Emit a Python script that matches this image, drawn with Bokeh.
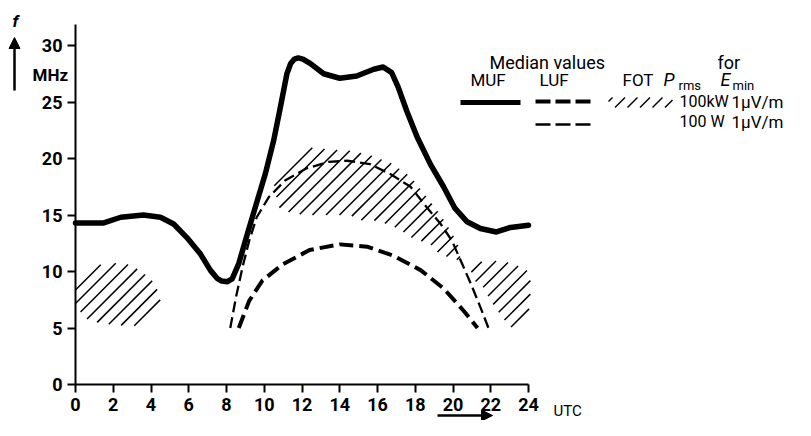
import math
from bokeh.plotting import figure
from bokeh.models import Label, Arrow, NormalHead, FixedTicker, LinearAxis
from bokeh.embed import file_html
from bokeh.resources import INLINE

# ---------------- data ----------------
x_ticks = [0, 2, 4, 6, 8, 10, 12, 14, 16, 18, 20, 22, 24]
y_ticks = [0, 5, 10, 15, 20, 25, 30]

muf_utc = [0, 1.5, 2.4, 3.6, 4.5, 5.2, 5.9, 6.6, 7.15, 7.5, 7.75, 8.05, 8.3, 8.65, 9.1, 9.6,
           10.05, 10.5, 10.85, 11.2, 11.4, 11.6, 11.8, 12.05, 12.45, 13.15, 14.0, 14.9, 15.8,
           16.3, 16.75, 17.1, 17.55, 18.1, 18.8, 19.5, 20.1, 20.75, 21.45, 22.3, 23.05, 24]
muf_mhz = [14.3, 14.3, 14.8, 15.0, 14.8, 14.2, 13.0, 11.6, 10.1, 9.4, 9.15, 9.1, 9.35, 10.7,
           13.3, 16.1, 18.6, 21.6, 24.5, 27.5, 28.4, 28.8, 28.9, 28.8, 28.4, 27.5, 27.1, 27.3,
           27.9, 28.1, 27.6, 26.3, 24.2, 21.9, 19.5, 17.5, 15.6, 14.4, 13.8, 13.5, 13.9, 14.1]

luf100w_utc = [8.2, 8.5, 8.85, 9.2, 9.6, 10.25, 11.1, 12.2, 13.4, 14.4, 15.6, 16.7, 17.75,
               18.6, 19.35, 19.95, 20.4, 20.95, 21.45, 21.9]
luf100w_mhz = [5.0, 7.7, 10.4, 12.7, 14.8, 16.6, 18.05, 19.1, 19.7, 19.8, 19.5, 18.6, 17.5,
               15.7, 14.2, 12.7, 11.0, 8.9, 6.85, 4.9]

luf100kw_utc = [8.65, 9.2, 9.9, 10.95, 12.4, 14.0, 15.45, 16.85, 18.3, 19.5, 20.55, 21.3]
luf100kw_mhz = [5.0, 7.4, 9.2, 10.6, 11.9, 12.4, 12.2, 11.4, 10.1, 8.5, 6.55, 5.0]

fot1_utc = [0, 0.8, 2.54, 3.44, 4.24, 4.5, 4.5, 3.7, 2.65, 1.32, 0.53, 0]
fot1_mhz = [9.2, 10.5, 10.8, 10.1, 8.9, 7.4, 6.5, 5.2, 5.2, 5.4, 5.85, 7.0]

fot2_utc = [10.45, 11.3, 12.3, 13.4, 14.5, 15.6, 16.7, 17.75, 18.6, 19.35, 19.95, 20.45,
            20.3, 19.3, 18.8, 17.8, 17.1, 16.0, 15.2, 14.5, 12.1, 11.2, 10.75]
fot2_mhz = [18.3, 19.7, 21.0, 20.8, 20.7, 20.3, 19.6, 18.4, 16.6, 15.0, 13.4, 11.7,
            11.0, 11.5, 12.4, 13.0, 13.8, 14.5, 14.5, 15.0, 15.0, 15.3, 15.7]

fot3_utc = [20.9, 21.1, 21.9, 22.9, 23.6, 24.1, 24.1, 23.9, 23.6, 23.05, 22.6, 22.0, 21.6]
fot3_mhz = [9.5, 10.7, 11.0, 10.8, 10.4, 9.9, 7.2, 5.7, 4.95, 5.1, 5.95, 7.4, 8.6]

# ---------------- figure ----------------
PX_PER_H = 18.875
PX_PER_MHZ = 11.3
X0_PX, Y0_PX = 75, 384          # pixel position of the origin
W, H = 795, 420

FONT = "Roboto"

p = figure(width=W, height=H,
           x_range=(-X0_PX / PX_PER_H, (W - X0_PX) / PX_PER_H),
           y_range=(-(H - Y0_PX) / PX_PER_MHZ, Y0_PX / PX_PER_MHZ),
           x_axis_type=None, y_axis_type=None,
           min_border=0, min_border_left=0, min_border_right=0,
           min_border_top=0, min_border_bottom=0,
           output_backend="svg", toolbar_location=None)
p.outline_line_color = None
p.grid.visible = False
p.background_fill_color = "white"
p.border_fill_color = "white"

xaxis = LinearAxis(fixed_location=0, ticker=FixedTicker(ticks=x_ticks), bounds=(0, 24))
yaxis = LinearAxis(fixed_location=0, ticker=FixedTicker(ticks=y_ticks), bounds=(0, 31.9))
for ax in (xaxis, yaxis):
    ax.axis_line_width = 2
    ax.axis_line_color = "black"
    ax.major_tick_line_width = 2
    ax.major_tick_line_color = "black"
    ax.major_tick_out = 8
    ax.major_tick_in = 0
    ax.minor_tick_line_color = None
    ax.major_label_text_font = FONT
    ax.major_label_text_font_size = "18px"
    ax.major_label_text_font_style = "bold"
    ax.major_label_text_color = "black"
    ax.major_label_standoff = 5
p.add_layout(xaxis, "below")
p.add_layout(yaxis, "left")


# 45-degree hatching ("////") clipped to a region outline
def hatch(xs, ys, spacing=13.5, width=1.5):
    u = [x * PX_PER_H for x in xs]
    v = [y * PX_PER_MHZ for y in ys]
    d = [vi - ui for ui, vi in zip(u, v)]
    n = len(u)
    x0, y0, x1, y1 = [], [], [], []
    k0 = math.ceil(min(d) / spacing)
    k1 = math.floor(max(d) / spacing)
    for k in range(k0, k1 + 1):
        c = k * spacing
        pts = []
        for i in range(n):
            j = (i + 1) % n
            a, b = d[i] - c, d[j] - c
            if (a < 0 <= b) or (b < 0 <= a):
                t = a / (a - b)
                pts.append(u[i] + t * (u[j] - u[i]))
        pts.sort()
        for m in range(0, len(pts) - 1, 2):
            ua, ub = pts[m], pts[m + 1]
            x0.append(ua / PX_PER_H)
            y0.append((ua + c) / PX_PER_MHZ)
            x1.append(ub / PX_PER_H)
            y1.append((ub + c) / PX_PER_MHZ)
    p.segment(x0, y0, x1, y1, line_color="black", line_width=width)


# FOT hatched regions
hatch(fot1_utc, fot1_mhz)
hatch(fot2_utc, fot2_mhz)
hatch(fot3_utc, fot3_mhz)

# LUF curves
p.line(luf100w_utc, luf100w_mhz, line_color="black", line_width=2.3, line_dash="11 5")
p.line(luf100kw_utc, luf100kw_mhz, line_color="black", line_width=4, line_dash="14 6")

# MUF curve
p.line(muf_utc, muf_mhz, line_color="black", line_width=5.5, line_join="round", line_cap="round")

# ---------------- legend ----------------
def X(px):
    return (px - X0_PX) / PX_PER_H

def Y(py):
    return (Y0_PX - py) / PX_PER_MHZ

p.line([X(460), X(520)], [Y(102), Y(102)], line_color="black", line_width=5)
p.line([X(535), X(592)], [Y(101), Y(101)], line_color="black", line_width=4, line_dash="15 5")
p.line([X(535), X(592)], [Y(124), Y(124)], line_color="black", line_width=2.5, line_dash="15 5")
hatch([X(608), X(672), X(672), X(608)], [Y(97), Y(97), Y(107), Y(107)], spacing=12.5, width=1.4)

def lab(px, py, text, size="18px", style="normal", align="left"):
    p.add_layout(Label(x=X(px), y=Y(py), text=text, text_font=FONT, text_font_size=size,
                       text_font_style=style, text_baseline="middle", text_align=align,
                       text_color="black"))

lab(489, 62, "Median values", "18px")
lab(717, 62, "for", "18px")
lab(470, 79, "MUF", "17px")
lab(539, 79, "LUF", "17px")
lab(622, 79, "FOT", "17px")
lab(663, 79, "P", "18px", "italic")
lab(678, 85, "rms", "13px")
lab(720, 79, "E", "18px", "italic")
lab(732, 85, "min", "13px")
lab(679, 101, "100kW", "16px")
lab(731, 101, "1µV/m", "17px")
lab(679, 121, "100 W", "16px")
lab(731, 121, "1µV/m", "17px")

# axis captions
lab(15, 20, "f", "17px", "bold italic", "center")
lab(32, 74, "MHz", "17px", "bold")
lab(553, 410, "UTC", "15px")

p.add_layout(Arrow(end=NormalHead(size=11, fill_color="black", line_color="black"),
                   x_start=X(14), y_start=Y(90), x_end=X(14), y_end=Y(37),
                   line_width=2.5, line_color="black"))
p.add_layout(Arrow(end=NormalHead(size=11, fill_color="black", line_color="black"),
                   x_start=X(437), y_start=Y(415), x_end=X(492), y_end=Y(415),
                   line_width=2.5, line_color="black"))

open("out.html", "w").write(file_html(p, INLINE))
